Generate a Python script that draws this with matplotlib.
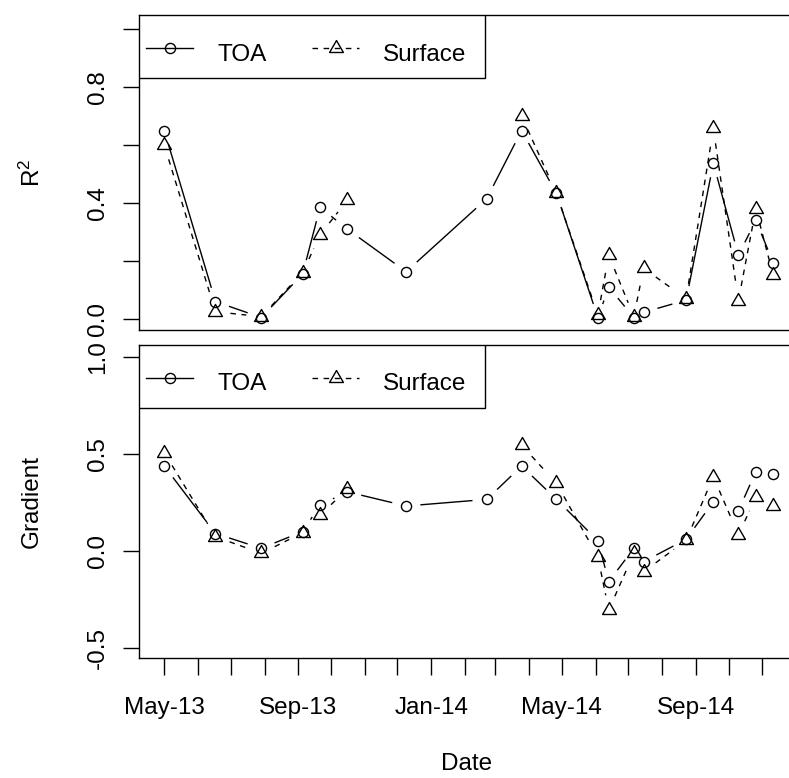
import numpy as np
import matplotlib
matplotlib.use('Agg')
import matplotlib.pyplot as plt
import matplotlib.dates as mdates
from matplotlib.lines import Line2D
from matplotlib.patches import Rectangle
from matplotlib.path import Path
from matplotlib.transforms import ScaledTranslation

plt.rcParams['font.family'] = ['Liberation Sans', 'DejaVu Sans']
plt.rcParams['mathtext.fontset'] = 'custom'
plt.rcParams['mathtext.rm'] = 'Liberation Sans'

# sampling dates
dates = ['2013-05-01', '2013-06-17', '2013-07-29', '2013-09-05', '2013-09-21',
         '2013-10-16', '2013-12-09', '2014-02-21', '2014-03-25', '2014-04-26',
         '2014-06-03', '2014-06-13', '2014-07-06', '2014-07-15', '2014-08-23',
         '2014-09-17', '2014-10-10', '2014-10-26', '2014-11-11']
nan = np.nan

# R^2 values
toa_r2 = [0.65, 0.06, 0.005, 0.155, 0.385, 0.31, 0.163, 0.415, 0.65, 0.433,
          0.005, 0.11, 0.005, 0.023, 0.065, 0.537, 0.22, 0.34, 0.194]
surf_r2 = [0.60, 0.025, 0.008, 0.16, 0.29, 0.41, nan, nan, 0.70, 0.433,
           0.014, 0.22, 0.008, 0.175, 0.07, 0.657, 0.063, 0.38, 0.15]

# gradient values
toa_g = [0.438, 0.09, 0.014, 0.10, 0.237, 0.305, 0.232, 0.266, 0.438, 0.266,
         0.053, -0.158, 0.014, -0.055, 0.06, 0.254, 0.208, 0.409, 0.397]
surf_g = [0.507, 0.074, -0.012, 0.094, 0.186, 0.318, nan, nan, 0.546, 0.349,
          -0.03, -0.304, -0.012, -0.107, 0.055, 0.383, 0.083, 0.277, 0.234]

labels = ['TOA', 'Surface']

x = mdates.date2num(np.array(dates, dtype='datetime64[D]'))
fs = 17.5
W, H = 789, 778

# triangle like R pch 2 (centred on centroid)
tri = Path([(0, 1.555), (1.347, -0.778), (-1.347, -0.778), (0, 1.555)],
           [Path.MOVETO, Path.LINETO, Path.LINETO, Path.CLOSEPOLY])
circ_kw = dict(marker='o', ms=7.3, mfc='none', mec='black', mew=1.0)
tri_kw = dict(marker=tri, ms=11.5, mfc='none', mec='black', mew=1.0)
dash = (0, (4, 4))


def gap_lines(ax, xs, ys, gap, **kw):
    # lines like R type="b": stop short of each point
    pts = ax.transData.transform(np.column_stack([xs, ys]))
    inv = ax.transData.inverted()
    for i in range(len(pts) - 1):
        p0, p1 = pts[i], pts[i + 1]
        if np.isnan(p0).any() or np.isnan(p1).any():
            continue
        d = np.hypot(*(p1 - p0))
        if d <= 2 * gap:
            continue
        u = (p1 - p0) / d
        seg = inv.transform([p0 + gap * u, p1 - gap * u])
        ax.plot(seg[:, 0], seg[:, 1], color='black', lw=1.0, **kw)


def r_legend(ax):
    # R-style legend box at the top-left corner; units are inches (=100 px)
    tr = fig.dpi_scale_trans + ScaledTranslation(0, 1, ax.transAxes)
    ax.add_patch(Rectangle((0, -0.625), 3.46, 0.625, transform=tr,
                           fc='white', ec='black', lw=1.0, zorder=5))
    items = [(0.07, circ_kw, '-', 0.78), (1.73, tri_kw, dash, 2.44)]
    for (hx, mk, ls, tx), lab in zip(items, labels):
        ax.add_line(Line2D([hx, hx + 0.47], [-0.33, -0.33], transform=tr,
                           color='black', lw=1.0, ls=ls, zorder=6))
        ax.add_line(Line2D([hx + 0.235], [-0.33], transform=tr, ls='none',
                           zorder=7, **mk))
        ax.text(tx, -0.455, lab, transform=tr, fontsize=fs, ha='left',
                va='baseline', zorder=7)


fig = plt.figure(figsize=(W / 100, H / 100), dpi=100)
left, right = 139, 798
ax1 = fig.add_axes([left / W, 1 - 330 / H, (right - left) / W, (330 - 15.5) / H])
ax2 = fig.add_axes([left / W, 1 - 658 / H, (right - left) / W, (658 - 345) / H])

x0 = mdates.date2num(np.datetime64('2013-05-01'))
xlim = (x0 - 23.2, x0 + 581.7)

ax1.set_ylim(-0.038, 1.0466)
ax2.set_ylim(-0.5515, 1.0619)

for ax, t, s, yt, ytl in [(ax1, toa_r2, surf_r2, np.arange(0, 1.01, 0.2),
                            ['0.0', '', '0.4', '', '0.8', '']),
                           (ax2, toa_g, surf_g, [-0.5, 0.0, 0.5, 1.0],
                            ['-0.5', '0.0', '0.5', '1.0'])]:
    ax.set_xlim(*xlim)
    gap_lines(ax, x, t, 15, ls='-')
    gap_lines(ax, x, s, 15, ls=dash)
    ax.plot(x, t, ls='none', **circ_kw)
    ax.plot(x, s, ls='none', **tri_kw)
    ax.set_yticks(yt)
    ax.set_yticklabels(ytl)
    for lab in ax.get_yticklabels():
        lab.set_rotation(90)
        lab.set_va('center')
        lab.set_ha('right')
    ax.tick_params(axis='y', length=11.5, width=1.0, pad=10, labelsize=fs)
    for sp in ax.spines.values():
        sp.set_linewidth(1.0)
    r_legend(ax)

ax1.tick_params(axis='x', bottom=False, labelbottom=False)

# monthly ticks, labels every fourth month
ticks = mdates.date2num(np.arange('2013-05', '2014-12', dtype='datetime64[M]').astype('datetime64[D]'))
ax2.set_xticks(ticks)
ax2.set_xticklabels([mdates.num2date(v).strftime('%b-%y') if i % 4 == 0 else ''
                     for i, v in enumerate(ticks)])
ax2.tick_params(axis='x', length=12.2, width=1.0, pad=16, labelsize=fs)

fig.text(32 / W, 1 - 172.5 / H, r'$\mathregular{R^2}$', rotation=90,
         ha='center', va='center', fontsize=fs)
fig.text(32 / W, 1 - 501.5 / H, 'Gradient', rotation=90,
         ha='center', va='center', fontsize=fs)
fig.text(467 / W, 1 - 764 / H, 'Date', ha='center', va='center', fontsize=fs)

fig.savefig('out.png', dpi=100)
